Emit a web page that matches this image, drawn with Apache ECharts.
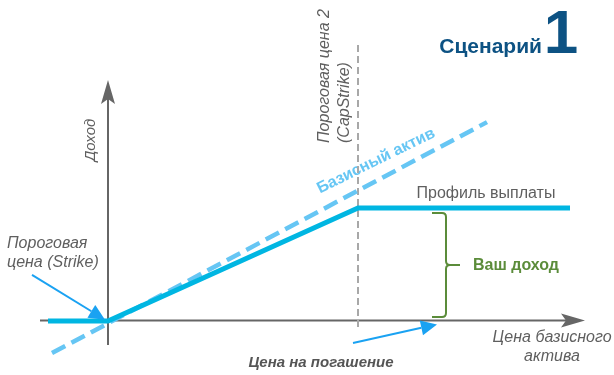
<!DOCTYPE html>
<html>
<head>
<meta charset="utf-8">
<script src="https://cdn.jsdelivr.net/npm/echarts@6/dist/echarts.min.js"></script>
<style>
  html, body { margin: 0; padding: 0; background: #fff; }
  #chart { width: 614px; height: 375px; }
</style>
</head>
<body>
<div id="chart"></div>
<script>
// Price of the underlying (x) vs. income (y) for a capped payoff note
const strike = 100;
const capStrike = 150;

// Payout profile: flat below strike, rising to the cap, flat after it
const payoffPrice = [88, 100, 150, 192.4];
const payoffIncome = [0, 0, 50, 50];

// Underlying asset performance (dashed)
const assetPrice = [88.8, 175.8];
const assetIncome = [-14.2, 88.0];

// Cap strike reference line
const capLineIncome = [-2.7, 122.6];

// Axis extents
const axisPriceRange = [86.4, 195.4];
const axisIncomeRange = [-10.6, 106.6];

// "Your income" brace: price position, income from, income to
const braceSpan = [167.6, 1.8, 47.8];

// Pointer arrows: [fromPrice, fromIncome, toPrice, toIncome]
const strikeArrow = [84.8, 20.4, 99.4, 0.6];
const expiryArrow = [149, -9.7, 165.8, -1.5];

const FONT = '"Liberation Sans", Arial, sans-serif';
const GRAY = '#5f5f5f';

// Builds an arrow (shaft + head) between two data points
function arrowRenderer(color, width, headLen, headWidth, notch) {
  return function (params, api) {
    const a = api.coord([api.value(0), api.value(1)]);
    const b = api.coord([api.value(2), api.value(3)]);
    const dx = b[0] - a[0], dy = b[1] - a[1];
    const len = Math.sqrt(dx * dx + dy * dy);
    const ux = dx / len, uy = dy / len;
    const nx = -uy, ny = ux;
    const bx = b[0] - ux * headLen, by = b[1] - uy * headLen;
    const shaftEnd = [b[0] - ux * (headLen - notch), b[1] - uy * (headLen - notch)];
    const pts = [
      [b[0], b[1]],
      [bx + nx * headWidth / 2, by + ny * headWidth / 2],
      shaftEnd,
      [bx - nx * headWidth / 2, by - ny * headWidth / 2]
    ];
    return {
      type: 'group',
      children: [
        {
          type: 'line',
          shape: { x1: a[0], y1: a[1], x2: shaftEnd[0], y2: shaftEnd[1] },
          style: { stroke: color, lineWidth: width }
        },
        {
          type: 'polygon',
          shape: { points: pts },
          style: { fill: color }
        }
      ]
    };
  };
}

const chart = echarts.init(document.getElementById('chart'), null, { renderer: 'canvas' });

const option = {
  animation: false,
  backgroundColor: '#ffffff',
  grid: { left: 0, right: 0, top: 0, bottom: 0 },
  xAxis: { type: 'value', min: 78.4, max: 201.2, show: false },
  yAxis: { type: 'value', min: -23.9, max: 142.04, show: false },
  series: [
    {
      name: 'axes',
      type: 'custom',
      renderItem: arrowRenderer('#666666', 2, 24, 14, 5),
      data: [
        [axisPriceRange[0], 0.2, axisPriceRange[1], 0.2],
        [strike, axisIncomeRange[0], strike, axisIncomeRange[1]]
      ],
      z: 1
    },
    {
      name: 'cap',
      type: 'line',
      symbol: 'none',
      lineStyle: { color: '#a8a8a8', width: 2, type: [7, 4] },
      data: capLineIncome.map(v => [capStrike, v]),
      z: 2
    },
    {
      name: 'asset',
      type: 'line',
      symbol: 'none',
      lineStyle: { color: '#66c6f4', width: 4.5, type: [15, 7] },
      data: assetPrice.map((p, i) => [p, assetIncome[i]]),
      z: 3
    },
    {
      name: 'payoff',
      type: 'line',
      symbol: 'none',
      lineStyle: { color: '#00b6e2', width: 5, cap: 'butt', join: 'miter' },
      data: payoffPrice.map((p, i) => [p, payoffIncome[i]]),
      z: 4
    },
    {
      name: 'pointers',
      type: 'custom',
      renderItem: arrowRenderer('#1aa2f2', 2, 16, 15, 0),
      data: [strikeArrow, expiryArrow],
      z: 5
    },
    {
      name: 'brace',
      type: 'custom',
      renderItem: function (params, api) {
        const top = api.coord([api.value(0), api.value(2)]);
        const bot = api.coord([api.value(0), api.value(1)]);
        const x = top[0], y0 = top[1], y1 = bot[1];
        const ym = (y0 + y1) / 2;
        const hook = 14, tip = 14, r = 4;
        const d = [
          'M', x - hook, y0,
          'L', x - r, y0,
          'Q', x, y0, x, y0 + r,
          'L', x, ym - r,
          'Q', x, ym, x + r, ym,
          'L', x + tip, ym,
          'M', x + r, ym,
          'Q', x, ym, x, ym + r,
          'L', x, y1 - r,
          'Q', x, y1, x - r, y1,
          'L', x - hook, y1
        ].join(' ');
        return {
          type: 'path',
          shape: { pathData: d },
          style: { stroke: '#5b8c3a', lineWidth: 2, fill: 'none' }
        };
      },
      data: [braceSpan],
      z: 5
    }
  ],
  graphic: [
    {
      type: 'text', x: 542, y: 47,
      style: { text: 'Сценарий', font: 'bold 21px ' + FONT, fill: '#0d5283', align: 'right', verticalAlign: 'middle' }
    },
    {
      type: 'text', x: 561, y: 36,
      style: { text: '1', font: 'bold 62px ' + FONT, fill: '#0d5283', align: 'center', verticalAlign: 'middle' }
    },
    {
      type: 'text', x: 325, y: 143, rotation: Math.PI / 2,
      style: { text: 'Пороговая цена 2', font: 'italic 16px ' + FONT, fill: GRAY, align: 'left', verticalAlign: 'middle' }
    },
    {
      type: 'text', x: 345, y: 143, rotation: Math.PI / 2,
      style: { text: '(CapStrike)', font: 'italic 16px ' + FONT, fill: GRAY, align: 'left', verticalAlign: 'middle' }
    },
    {
      type: 'text', x: 376, y: 161, rotation: Math.atan2(59, 120),
      style: { text: 'Базисный актив', font: 'bold 16px ' + FONT, fill: '#66c6f4', align: 'center', verticalAlign: 'middle' }
    },
    {
      type: 'text', x: 486, y: 194,
      style: { text: 'Профиль выплаты', font: '16px ' + FONT, fill: GRAY, align: 'center', verticalAlign: 'middle' }
    },
    {
      type: 'text', x: 516, y: 266,
      style: { text: 'Ваш доход', font: 'bold 16px ' + FONT, fill: '#5b8c3a', align: 'center', verticalAlign: 'middle' }
    },
    {
      type: 'text', x: 552, y: 338,
      style: { text: 'Цена базисного', font: 'italic 16px ' + FONT, fill: GRAY, align: 'center', verticalAlign: 'middle' }
    },
    {
      type: 'text', x: 552, y: 357,
      style: { text: 'актива', font: 'italic 16px ' + FONT, fill: GRAY, align: 'center', verticalAlign: 'middle' }
    },
    {
      type: 'text', x: 321, y: 363,
      style: { text: 'Цена на погашение', font: 'italic bold 15px ' + FONT, fill: '#555555', align: 'center', verticalAlign: 'middle' }
    },
    {
      type: 'text', x: 7, y: 244,
      style: { text: 'Пороговая', font: 'italic 16px ' + FONT, fill: GRAY, align: 'left', verticalAlign: 'middle' }
    },
    {
      type: 'text', x: 7, y: 263,
      style: { text: 'цена (Strike)', font: 'italic 16px ' + FONT, fill: GRAY, align: 'left', verticalAlign: 'middle' }
    },
    {
      type: 'text', x: 91, y: 140, rotation: Math.PI / 2,
      style: { text: 'Доход', font: 'italic 15px ' + FONT, fill: GRAY, align: 'center', verticalAlign: 'middle' }
    }
  ]
};

chart.setOption(option);
</script>
</body>
</html>
